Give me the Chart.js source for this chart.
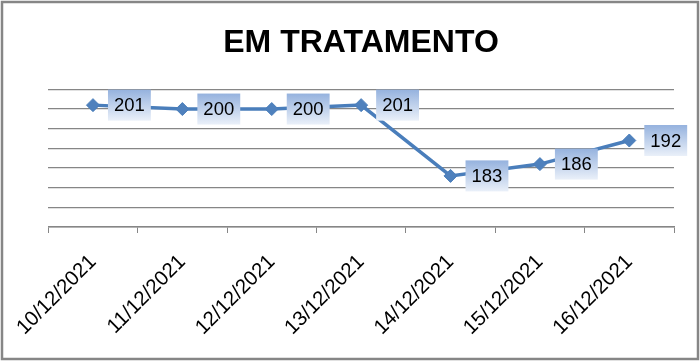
<!DOCTYPE html>
<html>
<head>
<meta charset="utf-8">
<script src="https://cdn.jsdelivr.net/npm/chart.js@4"></script>
<style>
  html, body { margin: 0; padding: 0; background: #fff; }
  #wrap { width: 700px; height: 361px; }
</style>
</head>
<body>
<div id="wrap"><canvas id="emChart" width="700" height="361"></canvas></div>
<script>
const dias = ["10/12/2021", "11/12/2021", "12/12/2021", "13/12/2021", "14/12/2021", "15/12/2021", "16/12/2021"];
const emTratamento = [201, 200, 200, 201, 183, 186, 192];
const yMin = 170;
const yMax = 205;
const yStep = 5;

const gridGray = "#868686";

// fundo branco + moldura cinza
const moldura = {
  id: "moldura",
  beforeDraw(chart) {
    const c = chart.ctx;
    c.save();
    c.fillStyle = "#fff";
    c.fillRect(0, 0, chart.width, chart.height);
    c.restore();
  },
  afterDraw(chart) {
    const c = chart.ctx;
    c.save();
    c.strokeStyle = gridGray;
    c.lineWidth = 2.5;
    c.strokeRect(2, 2, chart.width - 4, chart.height - 4);
    c.restore();
  },
};

// rótulos de dados em caixas com gradiente, à direita de cada ponto
const rotulos = {
  id: "rotulos",
  afterDatasetsDraw(chart) {
    const c = chart.ctx;
    const meta = chart.getDatasetMeta(0);
    const valores = chart.data.datasets[0].data;
    c.save();
    c.font = "18.5px 'Liberation Sans', Arial, sans-serif";
    c.textAlign = "center";
    c.textBaseline = "middle";
    meta.data.forEach((pt, i) => {
      const txt = String(valores[i]);
      const w = c.measureText(txt).width + 12;
      const h = 31;
      const x0 = pt.x + 15;
      const y0 = pt.y - h / 2;
      const g = c.createLinearGradient(0, y0, 0, y0 + h);
      g.addColorStop(0, "#95b2de");
      g.addColorStop(1, "#eaf0f9");
      c.fillStyle = g;
      c.fillRect(x0, y0, w, h);
      c.fillStyle = "#000";
      c.fillText(txt, x0 + w / 2, pt.y + 1);
    });
    c.restore();
  },
};

Chart.defaults.font.family = "'Liberation Sans', Arial, sans-serif";
Chart.defaults.color = "#000";

new Chart(document.getElementById("emChart"), {
  type: "line",
  data: {
    labels: dias,
    datasets: [
      {
        label: "EM TRATAMENTO",
        data: emTratamento,
        borderColor: "#4a7ebb",
        borderWidth: 3.5,
        tension: 0,
        pointStyle: "rectRot",
        pointRadius: 6.5,
        pointBackgroundColor: "#4f81bd",
        pointBorderColor: "#4a7ebb",
        pointBorderWidth: 1,
      },
    ],
  },
  options: {
    responsive: false,
    animation: false,
    layout: { padding: { left: 48, right: 26, top: 0, bottom: 0 } },
    plugins: {
      legend: { display: false },
      tooltip: { enabled: false },
      title: {
        display: true,
        text: "EM TRATAMENTO",
        color: "#000",
        font: { size: 32, weight: "bold", lineHeight: 1.2 },
        padding: { top: 24, bottom: 27 },
      },
    },
    scales: {
      x: {
        offset: true,
        grid: {
          offset: true,
          drawOnChartArea: false,
          drawTicks: true,
          tickLength: 6,
          color: gridGray,
        },
        border: { display: true, color: gridGray, width: 1.5 },
        ticks: {
          maxRotation: 45,
          minRotation: 45,
          padding: 17,
          font: { size: 20.5 },
          color: "#000",
        },
        afterFit(scale) {
          scale.height = 134;
        },
      },
      y: {
        min: yMin,
        max: yMax,
        ticks: { display: false, stepSize: yStep },
        grid: { color: gridGray, drawTicks: false, lineWidth: 1.2 },
        border: { display: false },
        afterFit(scale) {
          scale.width = 0;
        },
      },
    },
  },
  plugins: [moldura, rotulos],
});
</script>
</body>
</html>
